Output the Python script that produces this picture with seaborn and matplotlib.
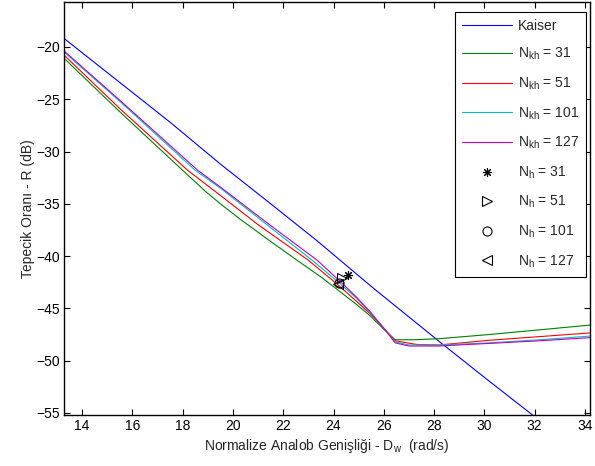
import numpy as np
import pandas as pd
import matplotlib
matplotlib.use("Agg")
import matplotlib.pyplot as plt
import seaborn as sns

# Sidelobe ratio R (dB) versus normalized main-lobe width D_w (rad/s)
kaiser_x = [13.29, 15.5, 17.5, 19.5, 21.5, 23.3, 25.65, 28.35, 30.0, 32.5]
kaiser_y = [-19.2, -23.4, -27.2, -31.2, -35.0, -38.45, -43.2, -48.45, -51.6, -56.3]

nkh31_x = [13.29, 15.5, 18.0, 18.9, 19.5, 20.3, 21.5, 22.55, 23.5, 24.15, 24.9, 25.45, 26.0, 26.45, 27.2, 28.2, 30.2, 32.2, 34.2]
nkh31_y = [-21.1, -26.2, -31.8, -33.8, -35.0, -36.5, -38.6, -40.4, -42.0, -43.2, -44.6, -45.7, -47.0, -48.0, -48.0, -47.9, -47.5, -47.05, -46.6]

nkh51_x = [13.29, 15.5, 18.2, 19.5, 21.0, 23.0, 24.2, 24.9, 25.45, 26.0, 26.45, 27.3, 28.2, 30.2, 32.2, 34.2]
nkh51_y = [-20.8, -25.9, -31.8, -34.2, -37.0, -40.4, -42.8, -44.3, -45.5, -46.9, -48.1, -48.45, -48.5, -48.05, -47.7, -47.35]

nkh101_x = [13.29, 15.5, 18.5, 19.5, 21.3, 23.15, 24.22, 24.9, 25.45, 26.0, 26.45, 27.0, 28.2, 30.2, 32.2, 34.2]
nkh101_y = [-20.5, -25.2, -31.8, -33.5, -36.9, -40.4, -42.55, -44.0, -45.4, -46.9, -48.2, -48.5, -48.5, -48.3, -48.0, -47.65]

nkh127_x = [13.29, 15.5, 18.6, 19.5, 21.4, 23.35, 24.3, 24.9, 25.45, 26.0, 26.45, 27.0, 28.2, 30.2, 32.2, 34.2]
nkh127_y = [-20.4, -25.1, -31.8, -33.4, -36.9, -40.4, -42.5, -43.9, -45.3, -46.9, -48.3, -48.6, -48.6, -48.35, -48.1, -47.8]

nh_x = [24.58, 24.35, 24.22, 24.18]
nh_y = [-41.8, -42.1, -42.6, -42.7]

line_labels = ["Kaiser", r"N$_{kh}$ = 31", r"N$_{kh}$ = 51", r"N$_{kh}$ = 101", r"N$_{kh}$ = 127"]
point_labels = [r"N$_{h}$ = 31", r"N$_{h}$ = 51", r"N$_{h}$ = 101", r"N$_{h}$ = 127"]
line_colors = ["#0000ff", "#008000", "#ff0000", "#00bfbf", "#bf00bf"]
point_markers = [(8, 2, 0), ">", "o", "<"]

x_ticks = list(range(14, 35, 2))
y_ticks = list(range(-55, -19, 5))

sns.set_style("white")
plt.rcParams["font.family"] = ["Liberation Sans", "DejaVu Sans"]
plt.rcParams["mathtext.default"] = "regular"
plt.rcParams["font.size"] = 10

fig, ax = plt.subplots(figsize=(5.95, 4.66), dpi=100)
fig.subplots_adjust(left=0.108, right=0.9916, bottom=0.1094, top=0.9957)

series = [
    (kaiser_x, kaiser_y),
    (nkh31_x, nkh31_y),
    (nkh51_x, nkh51_y),
    (nkh101_x, nkh101_y),
    (nkh127_x, nkh127_y),
]
for (xs, ys), lab, col in zip(series, line_labels, line_colors):
    df = pd.DataFrame({"Dw": xs, "R": ys})
    sns.lineplot(data=df, x="Dw", y="R", ax=ax, color=col, linewidth=0.8,
                 label=lab, sort=False, estimator=None)

for xv, yv, lab, mk in zip(nh_x, nh_y, point_labels, point_markers):
    df = pd.DataFrame({"Dw": [xv], "R": [yv]})
    sns.lineplot(data=df, x="Dw", y="R", ax=ax, marker=mk, linestyle="",
                 color="black", markerfacecolor="none", markeredgecolor="black",
                 markersize=6.5, markeredgewidth=0.8, label=lab, estimator=None)

ax.set_xlim(13.29, 34.2)
ax.set_ylim(-55.2, -15.7)
ax.set_xticks(x_ticks)
ax.set_yticks(y_ticks)
ax.tick_params(direction="in", bottom=True, left=True, top=True, right=True,
               length=4, width=0.8, labelsize=10, colors="black", pad=3)
for sp in ax.spines.values():
    sp.set_visible(True)
    sp.set_color("black")
    sp.set_linewidth(1.0)

ax.set_xlabel(r"Normalize Analob Genişliği - D$_w$  (rad/s)", fontsize=10, labelpad=3)
ax.set_ylabel("Tepecik Oranı - R (dB)", fontsize=10, labelpad=1)

leg = ax.legend(loc="upper right", bbox_to_anchor=(0.9924, 0.976), borderaxespad=0,
                fancybox=False, framealpha=1, edgecolor="black", fontsize=10,
                handlelength=3.6, handletextpad=0.4, labelspacing=0.95,
                borderpad=0.5)
leg.get_frame().set_linewidth(0.8)

fig.savefig("out.png", dpi=100)
